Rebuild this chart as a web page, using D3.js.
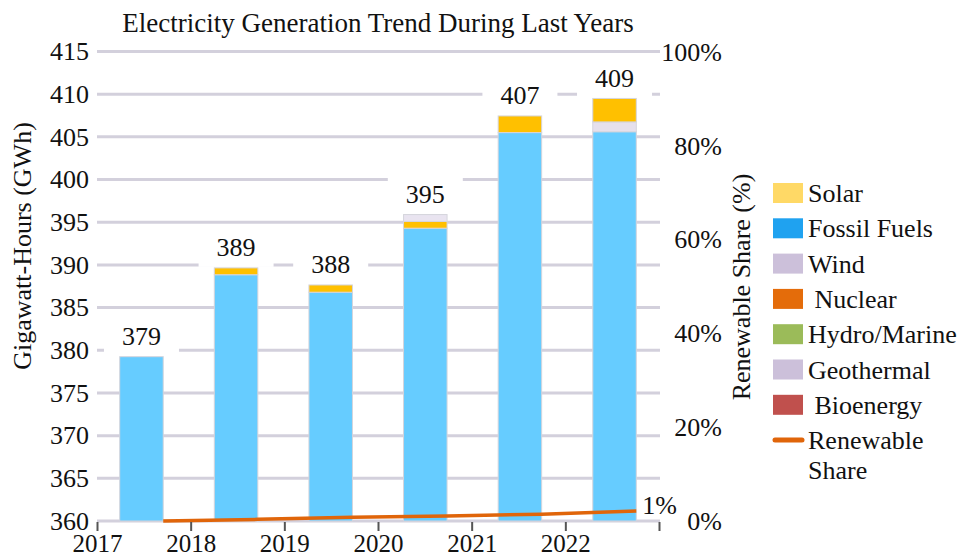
<!DOCTYPE html>
<html>
<head>
<meta charset="utf-8">
<script src="https://cdn.jsdelivr.net/npm/d3@7"></script>
<style>
  html, body { margin: 0; padding: 0; background: #fff; }
  svg text { font-family: "Liberation Serif", "DejaVu Serif", serif !important; }
</style>
</head>
<body>
<svg id="chart" width="965" height="558"></svg>
<script>
// ---- data ----
const years = ["2017", "2018", "2019", "2020", "2021", "2022"];
const fossil = [379.25, 388.85, 386.8, 394.3, 405.5, 405.6];
const wind = [0, 0, 0, 0, 0, 1.15];
const solar = [0, 0.8, 0.85, 0.8, 1.95, 2.75];
const geothermal = [0, 0, 0, 0.8, 0, 0];
const nuclear = [0, 0, 0, 0, 0, 0];
const hydro = [0, 0, 0, 0, 0, 0];
const bioenergy = [0, 0, 0, 0, 0, 0];
const totalLabels = ["379", "389", "388", "395", "407", "409"];
const renewableShare = [0, 0.35, 0.8, 1.05, 1.45, 2.15];
const shareEndLabel = "1%";
const leftTicks = [360, 365, 370, 375, 380, 385, 390, 395, 400, 405, 410, 415];
const rightTicks = [0, 20, 40, 60, 80, 100];
const legendNames = ["Solar", "Fossil Fuels", "Wind", " Nuclear", "Hydro/Marine", "Geothermal", " Bioenergy"];
const legendColors = ["#FFD966", "#1FA2F0", "#CCC0DA", "#E46C0A", "#9BBB59", "#CCC0DA", "#C0504D"];
const title = "Electricity Generation Trend During Last Years";
const leftTitle = "Gigawatt-Hours (GWh)";
const rightTitle = "Renewable Share (%)";
const lineLegend = ["Renewable", "Share"];

// stack order bottom -> top
const stackSeries = [
  { name: "Bioenergy", values: bioenergy, color: "#C0504D" },
  { name: "Hydro/Marine", values: hydro, color: "#9BBB59" },
  { name: "Nuclear", values: nuclear, color: "#E46C0A" },
  { name: "Fossil Fuels", values: fossil, color: "#66CCFF" },
  { name: "Wind", values: wind, color: "#E6E0EC" },
  { name: "Solar", values: solar, color: "#FFC000" },
  { name: "Geothermal", values: geothermal, color: "#E9E4F0" }
];

const FONT = "Liberation Serif, DejaVu Serif, serif";
const svg = d3.select("#chart").attr("font-family", FONT);
const plotL = 97, plotR = 659, plotT = 51.5, plotB = 521;

const y = d3.scaleLinear().domain([360, 415]).range([plotB, plotT]);
const yR = d3.scaleLinear().domain([0, 100]).range([plotB, 52]);
const xBand = d3.scaleBand().domain(years).range([plotL, plotR]).paddingInner(0.54).paddingOuter(0.24);
const xTick = d3.scalePoint().domain(years.concat(["end"])).range([plotL, plotR]);

// title
svg.append("text").attr("x", 378).attr("y", 32).attr("text-anchor", "middle")
  .attr("font-size", 27).attr("fill", "#111").text(title);

// gridlines
svg.append("g").selectAll("line").data(leftTicks).join("line")
  .attr("x1", plotL).attr("x2", plotR + 1)
  .attr("y1", d => y(d)).attr("y2", d => y(d))
  .attr("stroke", "#D3D0DC").attr("stroke-width", 3);

// stacked table
const rows = years.map((yr, i) => {
  const r = { year: yr };
  stackSeries.forEach(s => { r[s.name] = s.values[i]; });
  return r;
});
const stack = d3.stack().keys(stackSeries.map(s => s.name));
const stacked = stack(rows);
const tops = rows.map((r, i) => d3.max(stacked, layer => layer[i][1]));

// label boxes (white)
const labelOffset = 21;
svg.append("g").selectAll("rect").data(years).join("rect")
  .attr("x", d => xBand(d) + xBand.bandwidth() / 2 - 37.5)
  .attr("width", 75)
  .attr("y", (d, i) => y(tops[i]) - labelOffset - 16)
  .attr("height", labelOffset + 15)
  .attr("fill", "#fff");

// bars
const barG = svg.append("g");
stacked.forEach((layer, li) => {
  barG.append("g").selectAll("rect").data(layer.filter(d => d[1] - d[0] > 0)).join("rect")
    .attr("x", d => xBand(d.data.year))
    .attr("width", xBand.bandwidth())
    .attr("y", d => y(d[1]))
    .attr("height", d => y(Math.max(d[0], 360)) - y(d[1]))
    .attr("fill", stackSeries[li].color)
    .attr("stroke", "#D5D5DC").attr("stroke-width", 1);
});

// total labels
svg.append("g").selectAll("text").data(years).join("text")
  .attr("x", d => xBand(d) + xBand.bandwidth() / 2)
  .attr("y", (d, i) => y(tops[i]) - labelOffset)
  .attr("dy", "0.35em").attr("text-anchor", "middle")
  .attr("font-size", 26).attr("fill", "#111")
  .text((d, i) => totalLabels[i]);

// renewable share line
const linePts = years.map((yr, i) => [xBand(yr) + xBand.bandwidth(), yR(renewableShare[i])]);
svg.append("path").datum(linePts)
  .attr("d", d3.line())
  .attr("fill", "none").attr("stroke", "#E0650A").attr("stroke-width", 3.5);
const last = linePts[linePts.length - 1];
svg.append("text").attr("x", last[0] + 6).attr("y", last[1] - 6).attr("dy", "0.35em")
  .attr("font-size", 26).attr("fill", "#111").text(shareEndLabel);

// left axis labels
const leftAxis = d3.axisLeft(y).tickValues(leftTicks).tickSize(0).tickPadding(0);
const gL = svg.append("g").attr("transform", `translate(89,0)`).call(leftAxis);
gL.attr("font-family", FONT).attr("font-size", 26);
gL.select(".domain").remove();
gL.selectAll("text").attr("fill", "#111");

// right axis labels
const rightAxis = d3.axisRight(yR).tickValues(rightTicks).tickSize(0).tickPadding(0)
  .tickFormat(d => d + "%");
const gR = svg.append("g").attr("transform", `translate(722,0)`).call(rightAxis);
gR.attr("font-family", FONT).attr("font-size", 26);
gR.select(".domain").remove();
gR.selectAll("text").attr("fill", "#111").attr("text-anchor", "end");

// bottom axis
const bottomAxis = d3.axisBottom(xTick).tickSizeInner(9).tickSizeOuter(0).tickPadding(3)
  .tickFormat(d => d === "end" ? "" : d);
const gB = svg.append("g").attr("transform", `translate(0,${plotB + 1})`).call(bottomAxis);
gB.attr("font-family", FONT).attr("font-size", 25);
gB.select(".domain").remove();
gB.selectAll("line").attr("stroke", "#555").attr("stroke-width", 2);
gB.selectAll("text").attr("fill", "#111");

// axis titles
svg.append("text").attr("transform", `translate(31,246) rotate(-90)`)
  .attr("text-anchor", "middle").attr("font-size", 26).attr("fill", "#111").text(leftTitle);
svg.append("text").attr("transform", `translate(750,287) rotate(-90)`)
  .attr("text-anchor", "middle").attr("font-size", 26).attr("fill", "#111").text(rightTitle);

// legend
const legY0 = 193, legStep = 35.3;
const leg = svg.append("g");
leg.selectAll("rect").data(legendNames).join("rect")
  .attr("x", 773).attr("y", (d, i) => legY0 + i * legStep - 10)
  .attr("width", 30).attr("height", 20)
  .attr("fill", (d, i) => legendColors[i]);
leg.selectAll("text").data(legendNames).join("text")
  .attr("x", 808).attr("y", (d, i) => legY0 + i * legStep)
  .attr("dy", "0.35em").attr("font-size", 26).attr("fill", "#111")
  .style("white-space", "pre").text(d => d);
const lineLegY = legY0 + legendNames.length * legStep;
leg.append("line").attr("x1", 775).attr("x2", 802)
  .attr("y1", lineLegY).attr("y2", lineLegY)
  .attr("stroke", "#E0650A").attr("stroke-width", 5).attr("stroke-linecap", "round");
leg.selectAll("text.ll").data(lineLegend).join("text").attr("class", "ll")
  .attr("x", 808).attr("y", (d, i) => lineLegY + i * 30)
  .attr("dy", "0.35em").attr("font-size", 26).attr("fill", "#111").text(d => d);
</script>
</body>
</html>
